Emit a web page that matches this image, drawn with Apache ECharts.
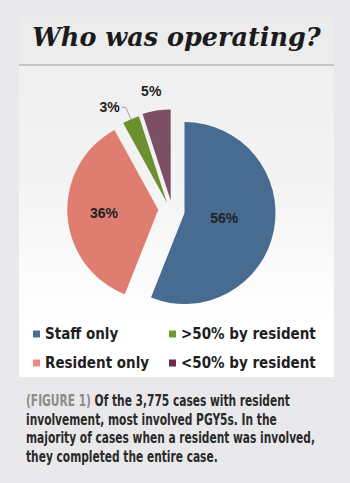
<!DOCTYPE html>
<html>
<head>
<meta charset="utf-8">
<script src="https://cdn.jsdelivr.net/npm/echarts@6/dist/echarts.min.js"></script>
<style>
  html, body { margin: 0; padding: 0; width: 350px; height: 483px; background: #e9e9eb; overflow: hidden; }
  #panel { position: absolute; left: 19px; top: 17px; width: 315px; height: 360px;
           background: linear-gradient(to bottom, #eeeeef 0%, #f3f3f4 45%, #ffffff 85%, #ffffff 100%); }
  #titleband { position: absolute; left: 19px; top: 17px; width: 315px; height: 47px; background: #ececed;
               border-bottom: 2px solid #c6c6c8; }
  #title { position: absolute; left: 19px; top: 20px; width: 315px; text-align: center;
           font-family: 'DejaVu Serif', Georgia, serif; font-weight: bold; font-style: italic;
           font-size: 25.5px; color: #1b1b1b; line-height: 34px; white-space: nowrap; }
  #chart { position: absolute; left: 0; top: 0; width: 350px; height: 483px; }
  #caption { position: absolute; left: 26px; top: 392px; white-space: nowrap; transform-origin: 0 0;
             font-family: 'DejaVu Sans Condensed', 'Liberation Sans Narrow', 'Arial Narrow', sans-serif;
             font-weight: bold; font-size: 15px; line-height: 18.7px; color: #2a2a2a; }
  #caption .fig { color: #8c8c8c; }
  #caption .ln { display: block; }
</style>
</head>
<body>
<div id="panel"></div>
<div id="titleband"></div>
<div id="title">Who was operating?</div>
<div id="chart"></div>
<div id="caption"><span class="ln"><span class="fig">(FIGURE 1)</span> Of the 3,775 cases with resident</span><span class="ln">involvement, most involved PGY5s. In the</span><span class="ln" id="widest">majority of cases when a resident was involved,</span><span class="ln">they completed the entire case.</span></div>
<script>
// ---- data ----
const categories = ['Staff only', 'Resident only', '>50% by resident', '<50% by resident'];
const values = [56, 36, 3, 5];
const legendLeft = ['Staff only', 'Resident only'];
const legendRight = ['>50% by resident', '<50% by resident'];

// ---- styles ----
const sliceColors = ['#486b91', '#e07d71', '#6a9030', '#7d4f66'];
const legendColors = { 'Staff only': '#4b6e96', 'Resident only': '#ec8a80', '>50% by resident': '#6e9a35', '<50% by resident': '#6b2a47' };
const centers = [[184.5, 213], [158.3, 209.7], [167, 202.7], [170.7, 200.5]];
const R = 91;
const labelFont = { fontFamily: "'Liberation Sans', Arial, sans-serif", fontWeight: 'bold', fontSize: 14, color: '#222' };
const labelCfg = [
  { show: true, position: 'inside', ...labelFont },
  { show: true, position: 'inside', ...labelFont },
  { show: true, position: 'outside', distanceToLabelLine: 2, ...labelFont },
  { show: true, position: 'outside', distanceToLabelLine: -8, ...labelFont }
];
const lineCfg = [
  { show: false },
  { show: false },
  { show: true, length: 13, length2: 4, lineStyle: { color: '#8a8a8a', width: 0.8 } },
  { show: false, length: 20, length2: 0 }
];
const labelShift = [{ dx: -8, dy: -4 }, { dx: -6, dy: 0 }, {}, {}];

const series = categories.map((cat, si) => ({
  type: 'pie',
  name: cat,
  center: centers[si],
  radius: [0, R],
  startAngle: 90,
  clockwise: true,
  avoidLabelOverlap: false,
  silent: true,
  emphasis: { disabled: true },
  animation: false,
  labelLayout: labelShift[si],
  data: categories.map((name, i) => ({
    name: name,
    value: values[i],
    itemStyle: i === si ? { color: sliceColors[i], borderWidth: 0 } : { color: 'rgba(0,0,0,0)', borderWidth: 0 },
    label: i === si ? Object.assign({ formatter: '{c}%' }, labelCfg[i]) : { show: false },
    labelLine: i === si ? lineCfg[i] : { show: false }
  }))
}));

const legendText = { fontFamily: "'DejaVu Sans Condensed', 'Liberation Sans Narrow', 'Arial Narrow', sans-serif",
                     fontWeight: 'bold', fontSize: 15, color: '#1e1e1e', lineHeight: 17 };
function mkLegend(names, left) {
  return {
    orient: 'vertical', left: left, top: 325.5, itemWidth: 7, itemHeight: 7, itemGap: 12,
    icon: 'rect', selectedMode: false, textStyle: legendText, padding: 0,
    data: names.map(n => ({ name: n, itemStyle: { color: legendColors[n], opacity: 1, borderWidth: 0 } }))
  };
}

const chart = echarts.init(document.getElementById('chart'), null, { renderer: 'svg' });
chart.setOption({
  backgroundColor: 'transparent',
  animation: false,
  legend: [mkLegend(legendLeft, 33), mkLegend(legendRight, 169)],
  series: series
});

// fit caption width to reference (condensed face emulation)
const cap = document.getElementById('caption');
const w = document.getElementById('widest').getBoundingClientRect().width;
const s = 289 / w;
cap.style.transform = 'scaleX(' + s + ')';
</script>
</body>
</html>
